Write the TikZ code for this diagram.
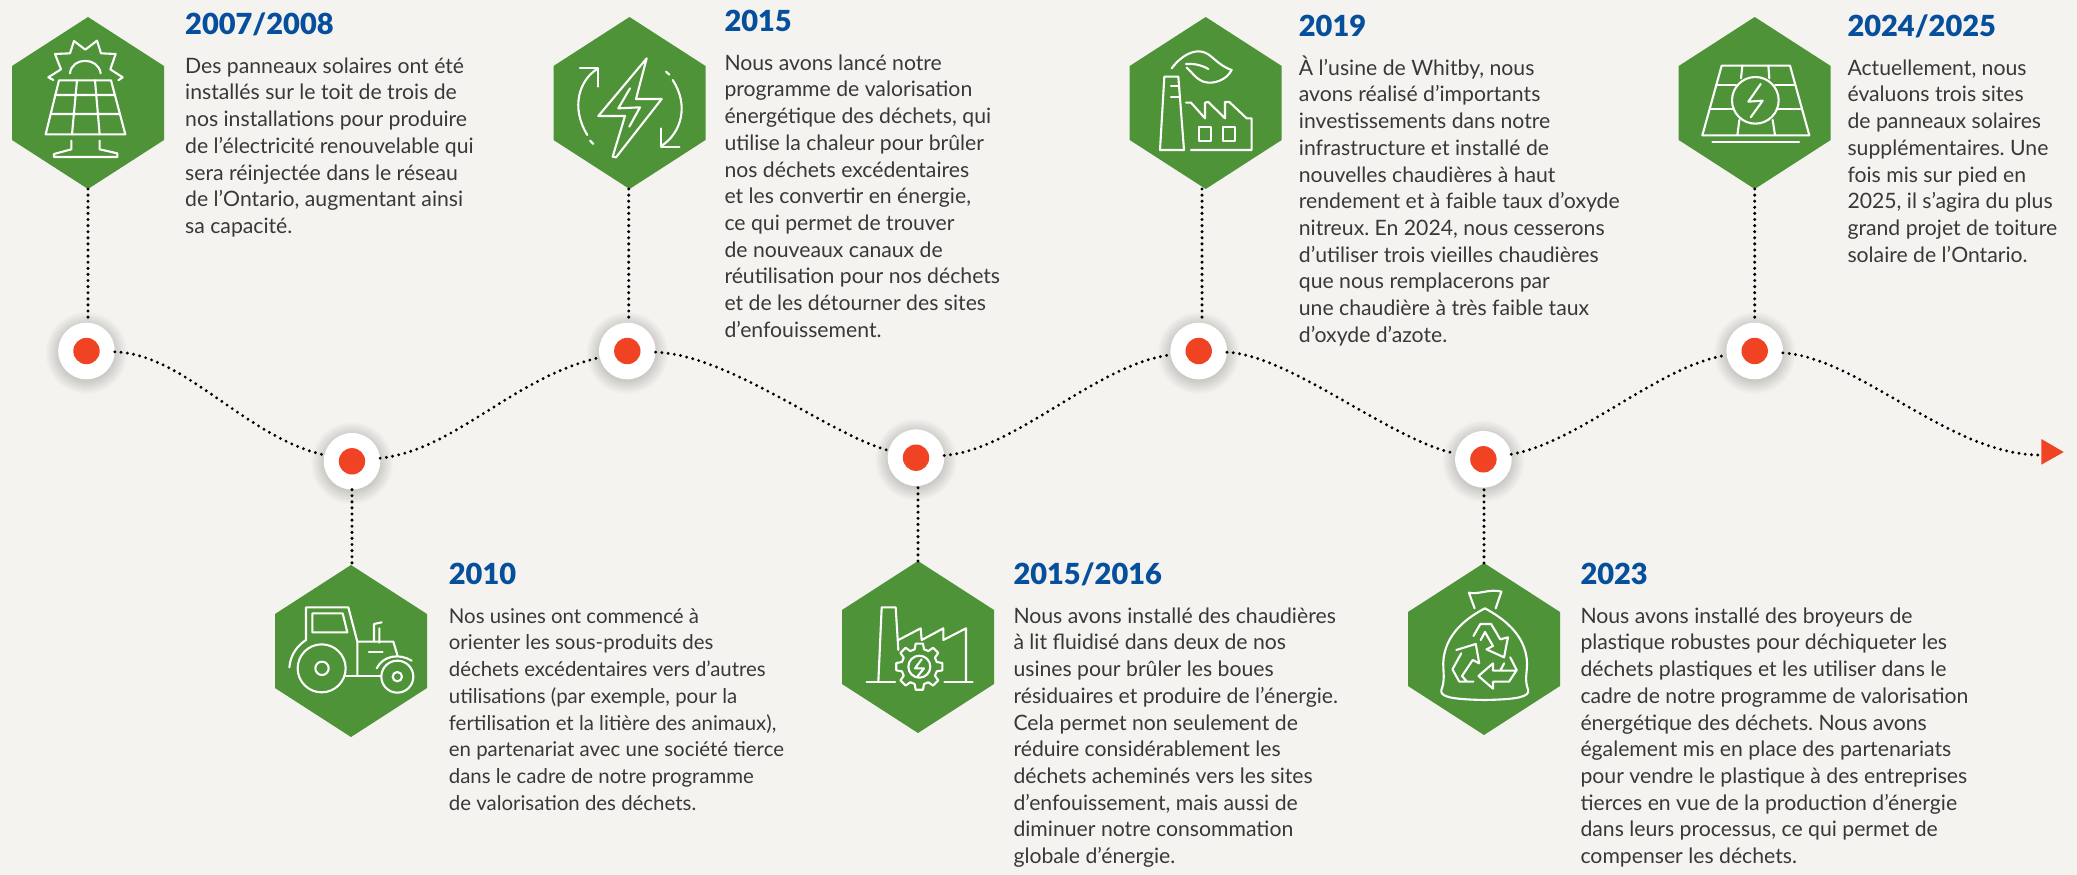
\documentclass[tikz,border=0pt]{standalone}
\usepackage{fontspec}
\setmainfont{Lato}
\newfontfamily\yearfont{Lato Black}
\newcommand{\firstline}{\rule{0pt}{22pt}}
\definecolor{paper}{HTML}{F4F3EF}
\definecolor{hexgreen}{HTML}{4E9338}
\definecolor{dotred}{HTML}{F04323}
\definecolor{headblue}{HTML}{064F9C}
\definecolor{bodyink}{HTML}{383838}
\tikzset{
  x=1pt,y=-1pt,
  hexbox/.style={rectangle,inner sep=0pt,outer sep=0pt,minimum width=152pt,minimum height=172pt,
    path picture={\fill[hexgreen] (path picture bounding box.north)
      -- ([yshift=-49pt]path picture bounding box.north east)
      -- ([yshift=49pt]path picture bounding box.south east)
      -- (path picture bounding box.south)
      -- ([yshift=49pt]path picture bounding box.south west)
      -- ([yshift=-49pt]path picture bounding box.north west) -- cycle;}},
  halo/.style={circle,fill=white,inner sep=0pt,outer sep=0pt,minimum size=56.6pt},
  reddot/.style={circle,fill=dotred,inner sep=0pt,minimum size=26.4pt},
  dotline/.style={draw=black,line width=3.4pt,line cap=round,dash pattern=on 0pt off 6.1pt},
  wave/.style={draw=black,line width=3.2pt,line cap=round,dash pattern=on 0pt off 6.3pt},
  icon/.style={draw=white,line width=2.1pt,line join=round,line cap=round},
  yearhead/.style={anchor=base west,inner sep=0pt,text=headblue,font=\fontsize{29}{32}\selectfont\yearfont},
  bodytext/.style={anchor=north west,inner sep=0pt,align=left,text=bodyink,
    font=\fontsize{21.2}{26.7}\selectfont\frenchspacing},
  bodytight/.style={bodytext,font=\fontsize{20.4}{26.7}\selectfont\frenchspacing},
}
\begin{document}
\begin{tikzpicture}
\useasboundingbox (0,0) rectangle (2077,875);
\fill[paper] (0,0) rectangle (2077,875);
% hexagons
\node[hexbox] (h1) at (88,103) {};
\node[hexbox] (h2) at (351,651) {};
\node[hexbox] (h3) at (629.5,103) {};
\node[hexbox] (h4) at (918,647) {};
\node[hexbox] (h5) at (1205.7,103) {};
\node[hexbox] (h6) at (1484,649) {};
\node[hexbox] (h7) at (1754.7,103) {};
% soft shadows under the stops
\foreach \p in {(86.5,351),(352,461.3),(627.3,351),(916,457.7),(1198.7,351),(1483.4,459.3),(1754.7,351)}
  \foreach \r in {28,29,...,41}
    \fill[black,opacity=.011,shift={\p}] (0,2) circle [radius=\r];
% timeline stops
\node[halo] (c1) at (86.5,351) {};
\node[halo] (c2) at (352,461.3) {};
\node[halo] (c3) at (627.3,351) {};
\node[halo] (c4) at (916,457.7) {};
\node[halo] (c5) at (1198.7,351) {};
\node[halo] (c6) at (1483.4,459.3) {};
\node[halo] (c7) at (1754.7,351) {};
\node[reddot] (r1) at (c1) {};
\node[reddot] (r2) at (c2) {};
\node[reddot] (r3) at (c3) {};
\node[reddot] (r4) at (c4) {};
\node[reddot] (r5) at (c5) {};
\node[reddot] (r6) at (c6) {};
\node[reddot] (r7) at (c7) {};
% wave
\coordinate (tip) at (2040,455);
\draw[wave] (c1) .. controls (185,354) and (245,437) .. (c2);
\draw[wave] (c2) .. controls (455,450) and (512,378) .. (c3);
\draw[wave] (c3) .. controls (730,355) and (830,435) .. (c4);
\draw[wave] (c4) .. controls (1015,450) and (1095,365) .. (c5);
\draw[wave] (c5) .. controls (1290,355) and (1390,440) .. (c6);
\draw[wave] (c6) .. controls (1580,442) and (1660,365) .. (c7);
\draw[wave] (c7) .. controls (1860,358) and (1950,455) .. (tip);
\fill[dotred] (2041.3,439) -- (2063.7,452) -- (2041.3,464.7) -- cycle;
% stems
\draw[dotline] (h1.south) -- (c1.north -| h1.south);
\draw[dotline] (c2.south) -- (h2.north -| c2.south);
\draw[dotline] ([xshift=-.8pt]h3.south) -- ([xshift=1.4pt]c3.north);
\draw[dotline] (h4.north) -- (c4.south -| h4.north);
\draw[dotline] ([xshift=-3.7pt]h5.south) -- ([xshift=3.3pt]c5.north);
\draw[dotline] (h6.north) -- (c6.south -| h6.north);
\draw[dotline] (h7.south) -- (c7.north);
% text
\node[yearhead] (y1) at (185,34.7) {2007/2008};
\node[bodytext] (t1) at (185,51) {\firstline Des panneaux solaires ont été\\installés sur le toit de trois de\\nos installations pour produire\\de l’électricité renouvelable qui\\sera réinjectée dans le réseau\\de l’Ontario, augmentant ainsi\\sa capacité.};
\node[yearhead] (y2) at (448.7,584.7) {2010};
\node[bodytight] (t2) at (448.7,601) {\firstline Nos usines ont commencé à\\orienter les sous-produits des\\déchets excédentaires vers d’autres\\utilisations (par exemple, pour la\\fertilisation et la litière des animaux),\\en partenariat avec une société tierce\\dans le cadre de notre programme\\de valorisation des déchets.};
\node[yearhead] (y3) at (724.3,32) {2015};
\node[bodytext] (t3) at (724.3,48) {\firstline Nous avons lancé notre\\programme de valorisation\\énergétique des déchets, qui\\utilise la chaleur pour brûler\\nos déchets excédentaires\\et les convertir en énergie,\\ce qui permet de trouver\\de nouveaux canaux de\\réutilisation pour nos déchets\\et de les détourner des sites\\d’enfouissement.};
\node[yearhead] (y4) at (1013.3,584.7) {2015/2016};
\node[bodytext] (t4) at (1013.3,601) {\firstline Nous avons installé des chaudières\\à lit fluidisé dans deux de nos\\usines pour brûler les boues\\résiduaires et produire de l’énergie.\\Cela permet non seulement de\\réduire considérablement les\\déchets acheminés vers les sites\\d’enfouissement, mais aussi de\\diminuer notre consommation\\globale d’énergie.};
\node[yearhead] (y5) at (1298.7,37) {2019};
\node[bodytext] (t5) at (1298.7,53) {\firstline À l’usine de Whitby, nous\\avons réalisé d’importants\\investissements dans notre\\infrastructure et installé de\\nouvelles chaudières à haut\\rendement et à faible taux d’oxyde\\nitreux. En 2024, nous cesserons\\d’utiliser trois vieilles chaudières\\que nous remplacerons par\\une chaudière à très faible taux\\d’oxyde d’azote.};
\node[yearhead] (y6) at (1580.3,584.7) {2023};
\node[bodytext] (t6) at (1580.3,601) {\firstline Nous avons installé des broyeurs de\\plastique robustes pour déchiqueter les\\déchets plastiques et les utiliser dans le\\cadre de notre programme de valorisation\\énergétique des déchets. Nous avons\\également mis en place des partenariats\\pour vendre le plastique à des entreprises\\tierces en vue de la production d’énergie\\dans leurs processus, ce qui permet de\\compenser les déchets.};
\node[yearhead] (y7) at (1847.3,37) {2024/2025};
\node[bodytext] (t7) at (1847.3,53) {\firstline Actuellement, nous\\évaluons trois sites\\de panneaux solaires\\supplémentaires. Une\\fois mis sur pied en\\2025, il s’agira du plus\\grand projet de toiture\\solaire de l’Ontario.};
% icon: solar panel with sun
\begin{scope}[x=.33333pt,y=-.33333pt,icon]
\draw (160,240) -- (145,232) -- (183,208) -- (165,162) -- (210,160) -- (222,123) -- (256,149) -- (291,122) -- (303,160) -- (347,162) -- (331,208) -- (368,232) -- (355,241);
\draw (210,220) .. controls (215,170) and (295,170) .. (302,220);
\draw (177,241) -- (333,241) -- (376,403) -- (137,403) -- cycle;
\draw (165,285) -- (345,285) (155,342) -- (358,342) (231,241) -- (216,403) (285,241) -- (299,403);
\draw (214,422) -- (214,448) -- (162,462) -- (162,471) -- (352,471) -- (352,460) -- (299,448) -- (299,422);
\end{scope}
% icon: bolt and arrows
\begin{scope}[shift={(530,0)},x=.33333pt,y=-.33333pt,icon]
\draw (350,175) -- (205,348) -- (285,348) -- (248,470) -- (258,472) -- (395,297) -- (318,297) -- cycle;
\draw (300,265) -- (265,325) -- (330,322) -- (298,380);
\draw (150,205) -- (205,205) -- (205,260);
\draw (200,208) .. controls (150,240) and (120,320) .. (172,405);
\draw (180,422) -- (190,432);
\draw (393,385) -- (393,440) -- (448,440);
\draw (398,435) .. controls (450,400) and (480,320) .. (428,240);
\draw (418,224) -- (408,215);
\end{scope}
% icon: green factory
\begin{scope}[shift={(1110,0)},x=.33333pt,y=-.33333pt,icon]
\draw (163,230) -- (205,230) -- (222,450) -- (150,450) -- cycle;
\draw (205,258) -- (183,258) (205,290) -- (183,290);
\draw (228,308) -- (243,308) -- (285,355) -- (285,308) -- (295,306) -- (345,355) -- (345,306) -- (358,306) -- (410,355) -- (425,355) -- (425,450) -- (243,450);
\draw (268,380) rectangle (303,422) (340,380) rectangle (375,422);
\draw (185,205) .. controls (215,165) and (250,150) .. (275,155) .. controls (305,160) and (320,195) .. (365,210) .. controls (350,240) and (310,255) .. (280,245) .. controls (255,235) and (245,215) .. (230,203);
\draw (228,192) .. controls (250,190) and (275,195) .. (295,207);
\end{scope}
% icon: panel with bolt
\begin{scope}[shift={(1660,0)},x=.33333pt,y=-.33333pt,icon]
\draw (185,197) -- (390,197) -- (448,406) -- (127,406) -- cycle;
\draw (157,427) -- (417,427);
\draw (286,301) circle [radius=70];
\draw (247,197) -- (243,235) (325,197) -- (328,235) (238,360) -- (232,406) (338,360) -- (345,406);
\draw (168,256) -- (228,256) (345,256) -- (405,256) (150,327) -- (222,327) (350,327) -- (420,327);
\draw (302,252) -- (265,305) -- (308,302) -- (272,352);
\end{scope}
% icon: tractor
\begin{scope}[shift={(260,420)},x=.33333pt,y=-.33333pt,icon]
\draw (138,660) -- (138,562) -- (265,562) -- (292,665) -- (292,768);
\draw (157,580) -- (248,580) -- (262,637) -- (157,637) -- cycle;
\draw (292,665) -- (400,665) -- (412,705);
\draw (342,665) -- (342,612) -- (365,607) (358,625) -- (358,668);
\draw (327,695) -- (368,695);
\draw (350,745) .. controls (370,705) and (420,700) .. (455,722);
\draw (88,742) .. controls (92,700) and (115,675) .. (138,660);
\draw (185,745) circle [radius=72] (186,745) circle [radius=20];
\draw (412,770) circle [radius=48] (412,770) circle [radius=14];
\draw (257,768) -- (362,768);
\end{scope}
% icon: factory with gear
\begin{scope}[shift={(830,420)},x=.33333pt,y=-.33333pt,icon]
\draw (145,785) -- (155,562) -- (197,562) -- (205,690);
\draw (110,787) -- (195,787) (343,787) -- (428,787);
\draw (205,660) -- (272,625) -- (275,660) -- (340,625) -- (340,660) -- (408,625) -- (408,785);
\draw[shift={(268,740)}] (-15:54) \foreach \a in {0,45,...,315} { -- (\a-15:54) -- (\a-9:70) -- (\a+9:70) -- (\a+15:54) } -- cycle;
\draw (268,740) circle [radius=33];
\draw (275,718) -- (255,745) -- (282,745) -- (262,770);
\end{scope}
% icon: recycling bag
\begin{scope}[shift={(1400,420)},x=.38265pt,y=-.33333pt,icon]
\draw (195,565) -- (180,518) .. controls (205,525) and (235,505) .. (265,515) -- (250,565);
\draw (222,565) .. controls (180,590) and (115,640) .. (113,730) .. controls (113,760) and (118,780) .. (108,810) .. controls (105,830) and (130,838) .. (222,840) .. controls (310,838) and (338,830) .. (335,810) .. controls (325,780) and (332,760) .. (332,730) .. controls (330,640) and (262,590) .. (222,565) -- cycle;
\draw (192,648) -- (210,612) -- (238,612) -- (262,658) -- (282,652) -- (272,712) -- (226,688) -- (243,678) -- (222,636) -- (211,660);
\draw (147,690) -- (198,672) -- (207,730) -- (190,720) -- (162,768) -- (175,785) -- (192,785) (160,700) -- (137,748) -- (155,785) -- (175,785);
\draw (243,730) -- (205,768) -- (243,806) -- (243,785) -- (285,785) -- (305,750) -- (288,712) (243,730) -- (243,752) -- (300,752) (272,730) -- (262,752);
\end{scope}
\end{tikzpicture}
\end{document}
